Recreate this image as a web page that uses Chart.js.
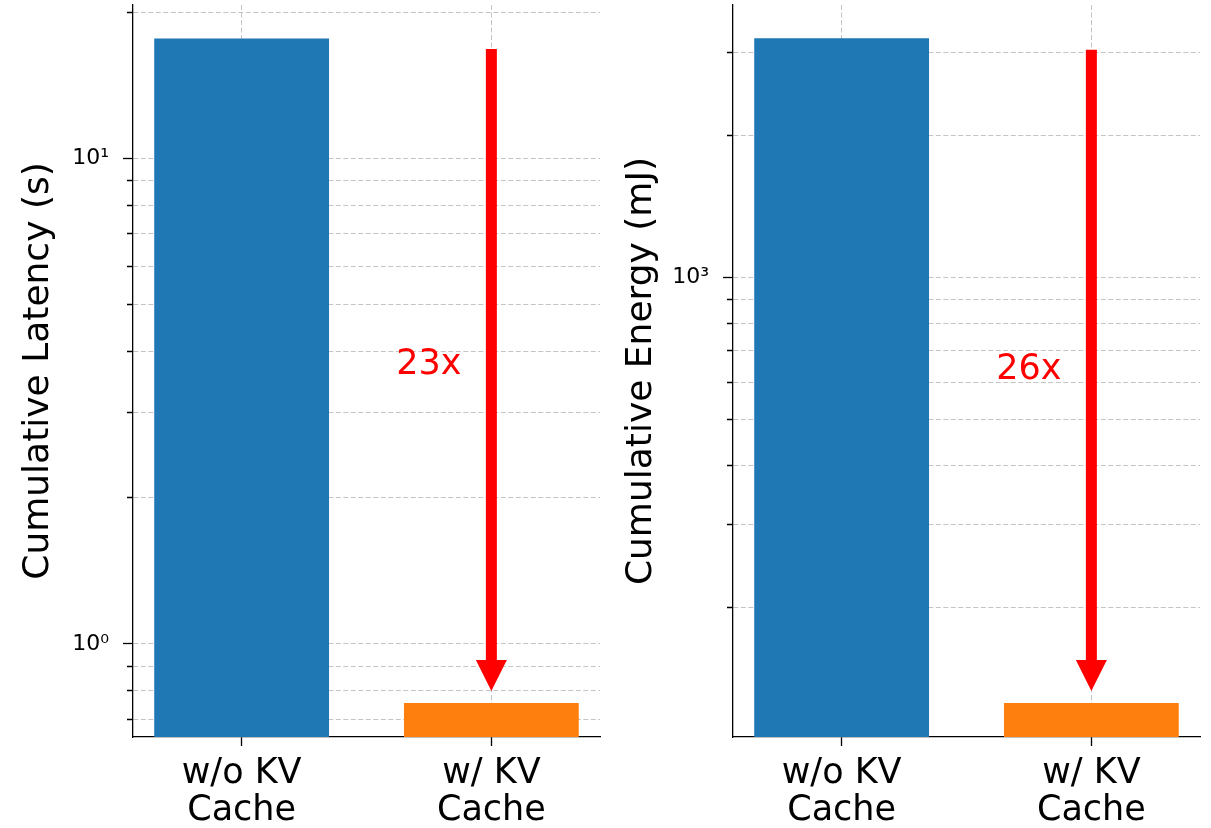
<!DOCTYPE html>
<html><head><meta charset="utf-8">
<script src="https://cdn.jsdelivr.net/npm/chart.js@4"></script>
<style>
html,body{margin:0;padding:0;background:#fff;width:1211px;height:828px;overflow:hidden}
#c1{position:absolute;left:0;top:0}
#c2{position:absolute;left:600px;top:0}
</style></head><body>
<canvas id="c1" width="605" height="828"></canvas>
<canvas id="c2" width="611" height="828"></canvas>
<script>
// ---- data ----
const categoryLines = [['w/o KV', 'Cache'], ['w/ KV', 'Cache']];
const barColors = ['#1f77b4', '#ff7f0e'];

const latencyValues = [17.65, 0.7555];
const energyValues = [3215, 125.4];

const latencyTicks = [0.7, 0.8, 0.9, 1, 2, 3, 4, 5, 6, 7, 8, 9, 10, 20];
const latencyMajorTicks = [1, 10];
const latencyMajorLabels = ['10⁰', '10¹'];
const latencyRange = [0.643, 20.7];

const energyTicks = [200, 300, 400, 500, 600, 700, 800, 900, 1000, 2000, 3000];
const energyMajorTicks = [1000];
const energyMajorLabels = ['10³'];
const energyRange = [106.2, 3783];

const speedupLabels = ['23x', '26x'];
const latencyArrow = [16.8, 0.80];   // from, to (values)
const energyArrow = [3040, 133];
const latencyLabelY = 3.75;
const energyLabelY = 637;

const titles = ['Cumulative Latency (s)', 'Cumulative Energy (mJ)'];

// ---- drawing ----
const GRID = 'rgba(176,176,176,0.75)';
const FONT = 'DejaVu Sans';

const speedupPlugin = {
  id: 'speedup',
  afterDatasetsDraw(chart, args, o) {
    const ctx = chart.ctx, xs = chart.scales.x, ys = chart.scales.y;
    const px = xs.getPixelForValue(o.arrowX);
    const y0 = ys.getPixelForValue(o.from), y1 = ys.getPixelForValue(o.to);
    const hs = o.shaft / 2, hw = o.headWidth / 2, hl = o.headLength;
    ctx.save();
    ctx.fillStyle = o.color;
    ctx.beginPath();
    ctx.moveTo(px - hs, y0);
    ctx.lineTo(px + hs, y0);
    ctx.lineTo(px + hs, y1 - hl);
    ctx.lineTo(px + hw, y1 - hl);
    ctx.lineTo(px, y1);
    ctx.lineTo(px - hw, y1 - hl);
    ctx.lineTo(px - hs, y1 - hl);
    ctx.closePath();
    ctx.fill();
    ctx.font = o.fontSize + 'px "' + FONT + '"';
    ctx.textAlign = 'center';
    ctx.textBaseline = 'middle';
    ctx.fillText(o.text, xs.getPixelForValue(o.textX), ys.getPixelForValue(o.textY));
    ctx.restore();
  }
};

function buildChart(id, p) {
  const isMajor = c => c && c.tick && p.majors.includes(c.tick.value);
  return new Chart(document.getElementById(id), {
    type: 'bar',
    data: {
      datasets: [{
        data: p.values.map((v, i) => ({ x: i, y: v })),
        backgroundColor: barColors,
        borderWidth: 0,
        categoryPercentage: 1,
        barPercentage: 0.7
      }]
    },
    options: {
      responsive: false,
      animation: false,
      devicePixelRatio: 1,
      layout: { padding: { top: 5, right: p.rightPad, bottom: 0, left: 0 } },
      plugins: {
        legend: { display: false },
        tooltip: { enabled: false },
        speedup: {
          arrowX: 1, from: p.arrow[0], to: p.arrow[1],
          shaft: 11, headWidth: 31, headLength: 31, color: '#ff0000',
          text: p.label, textX: 0.75, textY: p.labelY, fontSize: 35
        }
      },
      scales: {
        x: {
          type: 'linear', min: -0.435, max: 1.435, offset: false, bounds: 'data',
          afterBuildTicks: s => { s.ticks = categoryLines.map((_, i) => ({ value: i })); s.min = -0.435; s.max = 1.435; },
          afterFit: s => { s.height = 91; s.paddingLeft = 0; s.paddingRight = 0; },
          ticks: {
            autoSkip: false, padding: 10, color: '#000', maxRotation: 0,
            font: { family: FONT, size: 35, lineHeight: 1.05 },
            callback: v => categoryLines[v]
          },
          grid: { offset: false, color: GRID, lineWidth: 1, tickColor: '#000', tickWidth: 1.3, tickLength: 9 },
          border: { color: '#000', width: 1.3, dash: [5, 2.5] }
        },
        y: {
          type: 'logarithmic', min: p.range[0], max: p.range[1], bounds: 'data',
          afterBuildTicks: s => {
            s.ticks = p.ticks.map(v => ({ value: v, major: p.majors.includes(v) }));
            s.min = p.range[0]; s.max = p.range[1];
          },
          afterFit: s => { s.width = 133; s.paddingTop = 0; s.paddingBottom = 0; },
          title: {
            display: true, text: p.title, color: '#000',
            font: { family: FONT, size: 36 },
            padding: { top: p.titlePad, bottom: 0 }
          },
          ticks: {
            autoSkip: false, padding: 14, color: '#000',
            font: { family: FONT, size: 22 },
            callback: v => { const k = p.majors.indexOf(v); return k >= 0 ? p.majorLabels[k] : ''; }
          },
          grid: {
            color: GRID, lineWidth: 1, tickColor: '#000', tickWidth: 1.3, tickLength: 10,
            tickBorderDash: c => isMajor(c) ? [] : [0, 4, 6, 100]
          },
          border: { color: '#000', width: 1.3, dash: [5, 2.5] }
        }
      }
    },
    plugins: [speedupPlugin]
  });
}

buildChart('c1', {
  values: latencyValues, ticks: latencyTicks, majors: latencyMajorTicks, majorLabels: latencyMajorLabels,
  range: latencyRange, title: titles[0], arrow: latencyArrow, label: speedupLabels[0], labelY: latencyLabelY,
  titlePad: 17, rightPad: 5
});
buildChart('c2', {
  values: energyValues, ticks: energyTicks, majors: energyMajorTicks, majorLabels: energyMajorLabels,
  range: energyRange, title: titles[1], arrow: energyArrow, label: speedupLabels[1], labelY: energyLabelY,
  titlePad: 20, rightPad: 11
});
</script>
</body></html>
